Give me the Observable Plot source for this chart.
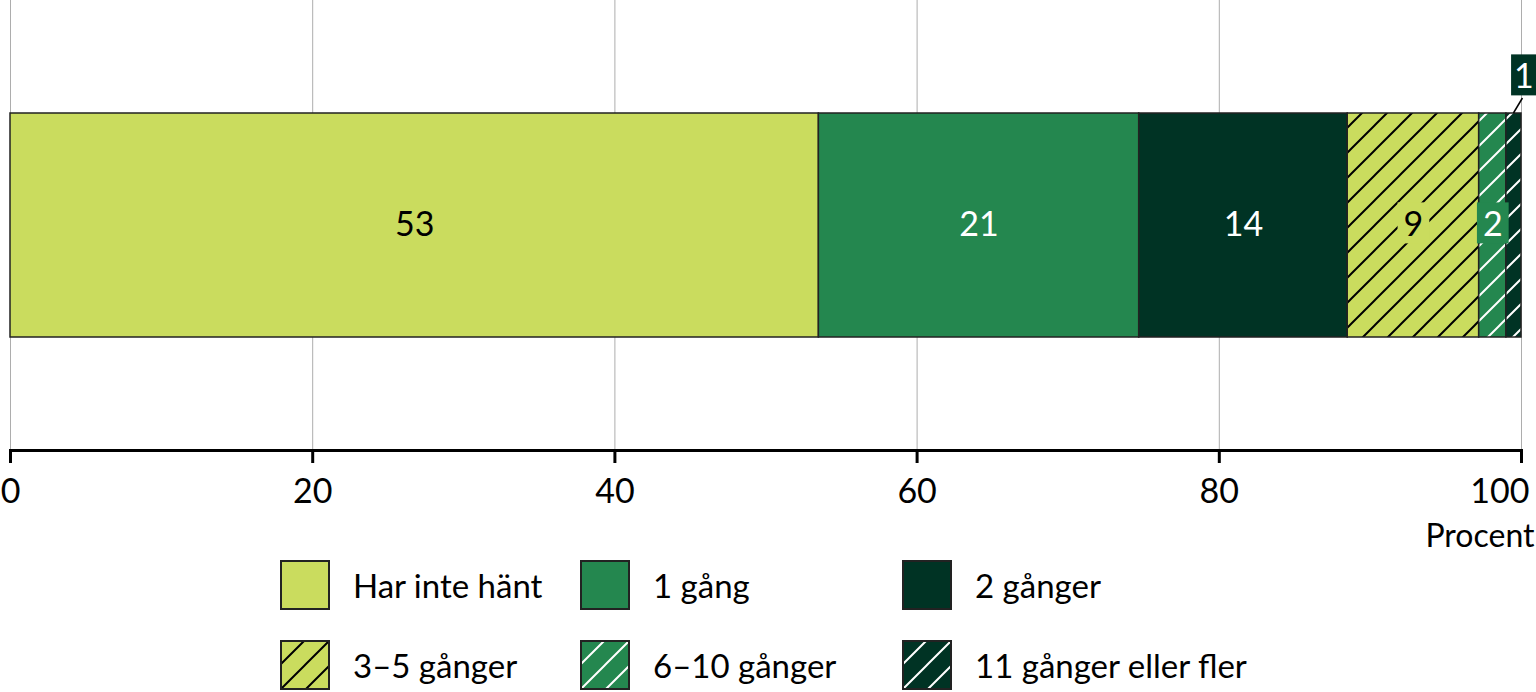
<!DOCTYPE html>
<html>
<head>
<meta charset="utf-8">
<script src="https://cdn.jsdelivr.net/npm/d3@7"></script>
<script src="https://cdn.jsdelivr.net/npm/@observablehq/plot@0.6"></script>
<style>
  html, body { margin: 0; padding: 0; background: #fff; }
  body { font-family: Lato, "Noto Sans", sans-serif; color: #000; width: 1536px; }
  #legend {
    display: grid;
    grid-template-columns: 300px 322px auto;
    row-gap: 30px;
    margin: 5px 0 0 280px;
  }
  .item { display: flex; align-items: center; height: 50px; font-size: 33px; white-space: nowrap; }
  .item svg { margin-right: 23px; flex: none; }
</style>
</head>
<body>
<svg id="defs" width="0" height="0" style="position:absolute"><defs></defs></svg>
<div id="chart"></div>
<div id="legend"></div>
<script>
// ---- data ----
const categories = ["Har inte hänt", "1 gång", "2 gånger", "3–5 gånger", "6–10 gånger", "11 gånger eller fler"];
const values = [53.5, 21.2, 13.8, 8.7, 1.8, 1.0];
const labels = ["53", "21", "14", "9", "2", "1"];
const xTicks = [0, 20, 40, 60, 80, 100];
const unitLabel = "Procent";
const groupName = "Alla";

// ---- styles ----
const light = "#cadc5e", mid = "#24874f", dark = "#003324";
const hatchDefs = [
  {id: "hatch3", bg: light, line: "#000"},
  {id: "hatch4", bg: mid, line: "#fff"},
  {id: "hatch5", bg: dark, line: "#fff"}
];
const fills = [light, mid, dark, "url(#hatch3)", "url(#hatch4)", "url(#hatch5)"];
const blackInk = [0, 3];
const whiteInk = [1, 2, 4];
const boxFill = {3: light, 4: mid, 5: dark};

// pattern definitions
const defs = d3.select("#defs defs");
for (const h of hatchDefs) {
  const p = defs.append("pattern").attr("id", h.id)
    .attr("patternUnits", "userSpaceOnUse").attr("width", 25).attr("height", 25);
  p.append("rect").attr("width", 25).attr("height", 25).attr("fill", h.bg);
  p.append("path").attr("d", "M-1,26L26,-1M-6,6L6,-6M19,31L31,19")
    .attr("stroke", h.line).attr("stroke-width", 2);
}

const rows = categories.map((c, i) => ({category: c, value: values[i], label: labels[i], i, group: groupName}));
const lastTick = xTicks[xTicks.length - 1];

const chart = Plot.plot({
  width: 1536,
  height: 555,
  marginLeft: 10,
  marginRight: 15,
  marginTop: 0,
  marginBottom: 105,
  style: {fontFamily: "Lato, 'Noto Sans', sans-serif", fontSize: "34px", background: "#fff", color: "#000", overflow: "visible"},
  x: {domain: [0, 100]},
  y: {domain: [groupName], padding: 0.335, axis: null},
  color: {domain: categories, range: fills},
  marks: [
    Plot.gridX(xTicks, {stroke: "#adadad", strokeOpacity: 1, strokeWidth: 1}),
    Plot.barX(rows, Plot.stackX({x: "value", y: "group", fill: "category", stroke: "#222", strokeWidth: 1.5})),
    Plot.frame({anchor: "bottom", stroke: "#000", strokeWidth: 3}),
    Plot.axisX(xTicks, {tickSize: 13, tickPadding: 15, strokeWidth: 3, fontSize: 34, label: null,
      tickFormat: d => d === lastTick ? "" : String(d)}),
    Plot.axisX([lastTick], {tickSize: 0, tickPadding: 28, fontSize: 34, label: null, textAnchor: "end", dx: 8,
      tickFormat: d => String(d)}),
    Plot.text(rows, Plot.stackX({x: "value", y: "group", text: d => blackInk.includes(d.i) ? d.label : null, fill: "#000", fontSize: 34, className: "seglab"})),
    Plot.text(rows, Plot.stackX({x: "value", y: "group", text: d => whiteInk.includes(d.i) ? d.label : null, fill: "#fff", fontSize: 34, className: "seglab"})),
    Plot.text(rows, Plot.stackX({x: "value", y: "group", text: d => d.i === 5 ? d.label : null, fill: "#fff", fontSize: 34, dx: 10, dy: -148, className: "seglab"})),
    Plot.text([unitLabel], {frameAnchor: "bottom-right", text: d => d, textAnchor: "end", dx: 13, dy: 96, fontSize: 32, fill: "#000"})
  ]
});
document.getElementById("chart").append(chart);

// background boxes behind selected labels
d3.select(chart).selectAll("g.seglab text").each(function() {
  const i = labels.indexOf(this.textContent);
  const bg = boxFill[i];
  if (!bg) return;
  const b = this.getBBox();
  const padX = i === 5 ? 3 : 6;
  d3.select(this.parentNode).insert("rect", () => this)
    .attr("transform", this.getAttribute("transform"))
    .attr("x", b.x - padX).attr("y", b.y)
    .attr("width", b.width + 2 * padX).attr("height", b.height)
    .attr("fill", bg);
});

// leader line for the small last segment
{
  const xs = chart.scale("x"), ys = chart.scale("y");
  const midVal = d3.sum(values.slice(0, 5)) + values[5] / 2;
  const x0 = xs.apply(midVal);
  const top = ys.apply(groupName);
  d3.select(chart).append("line")
    .attr("x1", x0).attr("y1", top)
    .attr("x2", x0 + 9).attr("y2", top - 15)
    .attr("stroke", "#000").attr("stroke-width", 1.5);
}

// legend
const legend = d3.select("#legend");
categories.forEach((c, i) => {
  const item = legend.append("div").attr("class", "item");
  const s = item.append("svg").attr("width", 50).attr("height", 50);
  s.append("rect").attr("x", 1).attr("y", 1).attr("width", 48).attr("height", 48)
    .attr("fill", fills[i]).attr("stroke", "#222").attr("stroke-width", 2);
  item.append("span").text(c);
});
</script>
</body>
</html>
